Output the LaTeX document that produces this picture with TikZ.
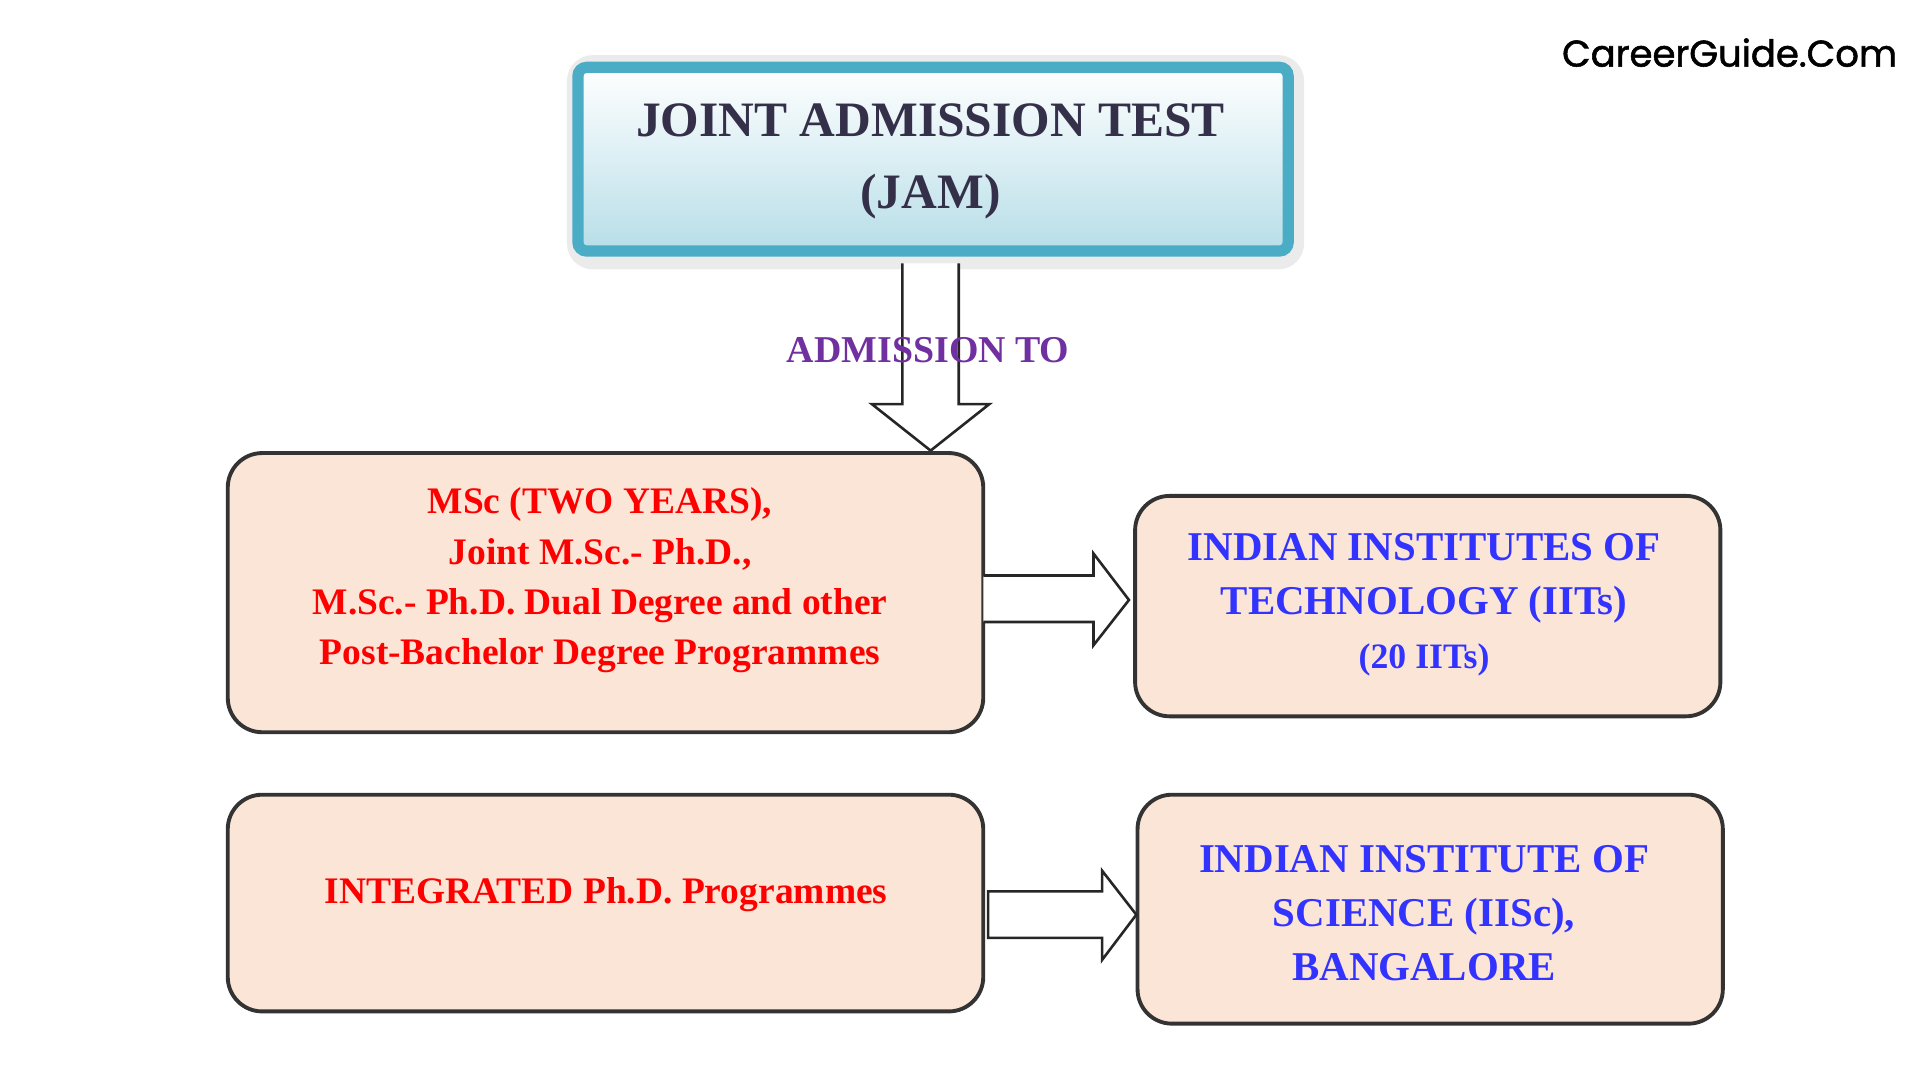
\documentclass[tikz,border=0pt]{standalone}
\usepackage{fontspec}
\setmainfont{Liberation Serif}
\newfontfamily\cgfont[FakeBold=1.5]{Poppins}
\definecolor{peach}{HTML}{FBE5D6}
\definecolor{teal}{HTML}{4BACC6}
\definecolor{lblue}{HTML}{B7DEE8}
\definecolor{redt}{HTML}{FF0000}
\definecolor{bluet}{HTML}{3333FF}
\definecolor{purp}{HTML}{7030A0}
\definecolor{dark}{HTML}{35304A}
\tikzset{
 pbox/.style={draw=black!80,line width=0.9pt,fill=peach,rounded corners=8pt},
 hollow/.style={draw=black!85,line width=0.6pt,fill=white},
 redtxt/.style={text=redt,font=\bfseries\fontsize{8.7}{11.7}\selectfont,align=center},
 bluetxt/.style={text=bluet,font=\bfseries\fontsize{9.5}{12.5}\selectfont,align=center}
}
\begin{document}
\begin{tikzpicture}[x=0.01cm,y=-0.01cm]
\useasboundingbox (0,0) rectangle (1568,882);
% JAM box
\fill[black!8,rounded corners=6pt] (463,45) rectangle (1065,220);
\shade[top color=white,bottom color=lblue,draw=teal,line width=2.6pt,rounded corners=2pt] (472,55) rectangle (1052,205);
\node[text=dark,font=\bfseries\fontsize{11.5}{16.8}\selectfont,align=center] (t1) at (760,132) {JOINT ADMISSION TEST\\(JAM)};
% down arrow
\draw[hollow] (737,215) -- (737,330) -- (712,330) -- (760,368) -- (808,330) -- (783,330) -- (783,215);
\node[text=purp,font=\bfseries\fontsize{8.8}{10}\selectfont] (adm) at (758,286) {ADMISSION TO};
% boxes
\draw[pbox] (186,370) rectangle (803,598);
\node[redtxt] (b1) at (490,474) {MSc (TWO YEARS),\\ Joint M.Sc.- Ph.D.,\\ M.Sc.- Ph.D. Dual Degree and other\\ Post-Bachelor Degree Programmes};
\draw[pbox] (927,405) rectangle (1405,585);
\node[bluetxt] (b2) at (1163,494) {INDIAN INSTITUTES OF\\ TECHNOLOGY (IITs)\\ {\fontsize{8.3}{11}\selectfont (20 IITs)}};
\draw[pbox] (186,649) rectangle (803,826);
\node[redtxt] (b3) at (495,731) {INTEGRATED Ph.D. Programmes};
\draw[pbox] (929,649) rectangle (1407,836);
\node[bluetxt] (b4) at (1163,746) {INDIAN INSTITUTE OF\\ SCIENCE (IISc),\\ BANGALORE};
% right arrows
\draw[hollow] (803,470) -- (893,470) -- (893,452) -- (922,490) -- (893,527) -- (893,508) -- (803,508);
\draw[hollow] (807,728) -- (900,728) -- (900,711) -- (928,747) -- (900,784) -- (900,766) -- (807,766) -- cycle;
\node[font=\cgfont\fontsize{8.6}{10}\selectfont,anchor=east,inner sep=0pt] (cg) at (1550,43) {CareerGuide.Com};
\end{tikzpicture}
\end{document}
